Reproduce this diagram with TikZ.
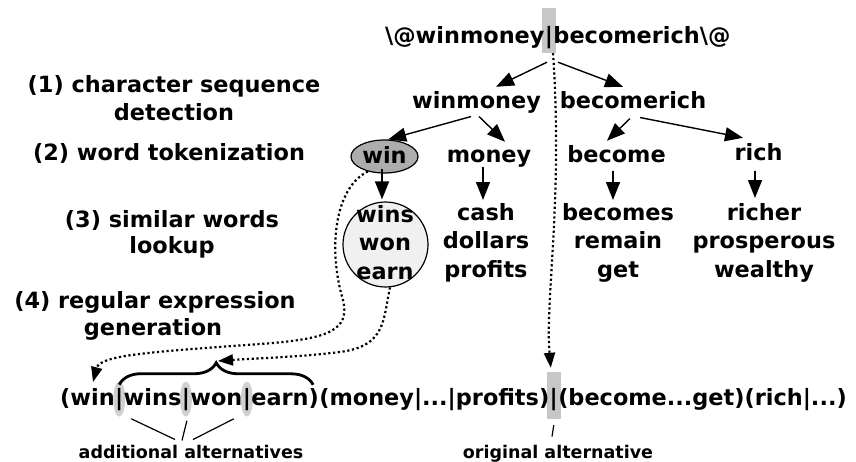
\documentclass[tikz,border=0pt]{standalone}
\usepackage{fontspec}
\setmainfont{DejaVu Sans}
\usetikzlibrary{arrows.meta,decorations.pathreplacing,backgrounds,calc,shapes.geometric}
\begin{document}
\begin{tikzpicture}[x=1pt,y=-1pt,
  txt/.style={font=\bfseries\fontsize{22.4}{28}\selectfont, inner sep=0pt, align=center},
  lst/.style={font=\bfseries\fontsize{22.4}{28.5}\selectfont, inner sep=0pt, align=center, anchor=north},
  small/.style={font=\bfseries\fontsize{17.5}{20}\selectfont, inner sep=0pt},
  arr/.style={line width=1.4pt, -{Triangle[length=18pt,width=14pt]}},
  dots/.style={line width=2.2pt, dash pattern=on 2.2pt off 2.6pt, -{Triangle[length=15pt,width=11pt]}},
  hl/.style={fill=black!22, draw=none, inner sep=0pt},
  thin/.style={line width=1.2pt},
]
\useasboundingbox (0,0) rectangle (856,461);

% input string, split around the separator
\node[txt, anchor=base] (tbar) at (549,43) {|};
\node[txt, anchor=base east] (tl) at (tbar.base west) {\textbackslash @winmoney};
\node[txt, anchor=base west] (tr) at (tbar.base east) {becomerich\textbackslash @};

% step labels
\node[txt, anchor=base] (l1a) at (174,92) {(1) character sequence};
\node[txt, anchor=base] (l1b) at (174,120) {detection};
\node[txt, anchor=base] (l2)  at (169,160) {(2) word tokenization};
\node[txt, anchor=base] (l3a) at (172,227) {(3) similar words};
\node[txt, anchor=base] (l3b) at (172,253) {lookup};
\node[txt, anchor=base] (l4a) at (155,308) {(4) regular expression};
\node[txt, anchor=base] (l4b) at (153,335) {generation};

% detected character sequences
\node[txt, anchor=base] (wm) at (476.5,108) {winmoney};
\node[txt, anchor=base] (br) at (633,108) {becomerich};

% tokens
\node[ellipse, draw, fill=black!32, line width=1.2pt, minimum width=67pt, minimum height=33pt, inner sep=0pt] (win) at (384.5,156.5) {};
\node[txt, anchor=base] (wintxt) at (384.5,163) {win};
\node[txt, anchor=base] (money) at (489,162) {money};
\node[txt, anchor=base] (become) at (616.5,162) {become};
\node[txt, anchor=base] (rich) at (758.5,160) {rich};

% similar words
\node[circle, draw, fill=black!6, line width=1.2pt, minimum size=85pt, inner sep=0pt] (simc) at (385.5,244.5) {};
\node[lst] (sim) at (385,205) {wins\\won\\earn};
\node[lst] (money2) at (486,203) {cash\\dollars\\profits};
\node[lst] (become2) at (618,203) {becomes\\remain\\get};
\node[lst] (rich2) at (764,203) {richer\\prosperous\\wealthy};

% generated expression, split at the alternation bars
\node[txt, anchor=base west] (b1) at (60,405) {(win};
\node[txt, anchor=base west] (s1) at (b1.base east) {|};
\node[txt, anchor=base west] (b2) at (s1.base east) {wins};
\node[txt, anchor=base west] (s2) at (b2.base east) {|};
\node[txt, anchor=base west] (b3) at (s2.base east) {won};
\node[txt, anchor=base west] (s3) at (b3.base east) {|};
\node[txt, anchor=base west] (b4) at (s3.base east) {earn)};
\node[txt, anchor=base west] (b5) at (b4.base east) {(money|...|profits)};
\node[txt, anchor=base west] (s4) at (b5.base east) {|};
\node[txt, anchor=base west] (b6) at (s4.base east) {(become...get)(rich|...)};

% highlights behind the bars
\begin{scope}[on background layer]
  \node[hl, minimum width=14pt, minimum height=45pt] (tbox) at (tbar.center |- 0,30.5) {};
  \node[hl, ellipse, fill=black!18, minimum width=12pt, minimum height=35pt] (e1) at (s1.center) {};
  \node[hl, ellipse, fill=black!18, minimum width=12pt, minimum height=35pt] (e2) at (s2.center) {};
  \node[hl, ellipse, fill=black!18, minimum width=12pt, minimum height=35pt] (e3) at (s3.center) {};
  \node[hl, minimum width=14pt, minimum height=47pt] (obox) at (s4.center |- 0,395.5) {};
\end{scope}

% brace over the added alternatives
\draw[decorate, decoration={brace, amplitude=22pt}, line width=2.8pt]
  ([yshift=3pt]s1.north) -- ([xshift=-6pt,yshift=3pt]b4.north east);
\coordinate (bt) at (218,361);

% tree arrows
\draw[arr] ([xshift=-2pt,yshift=-9pt]tbox.south) -- ([xshift=19.5pt,yshift=4pt]wm.north);
\draw[arr] ([xshift=9pt,yshift=-9pt]tbox.south) -- ([xshift=-10pt,yshift=4pt]br.north);
\draw[arr] ([xshift=-5.5pt,yshift=-3.5pt]wm.south) -- (win.78);
\draw[arr] ([xshift=2.5pt,yshift=-3.5pt]wm.south) -- ([xshift=16pt,yshift=7.5pt]money.north);
\draw[arr] ([xshift=-3pt,yshift=-10pt]br.south) -- ([xshift=-9.5pt,yshift=4pt]become.north);
\draw[arr] ([xshift=7pt,yshift=-9pt]br.south) -- ([xshift=-15.5pt,yshift=5pt]rich.north);
\draw[arr] ([xshift=-2.5pt,yshift=5pt]win.south) -- ([xshift=-3.5pt,yshift=2pt]simc.north);
\draw[arr] ([xshift=-6pt]money.south) -- ([xshift=-3pt,yshift=3pt]money2.north);
\draw[arr] ([xshift=-3.5pt,yshift=-8pt]become.south) -- ([xshift=-5pt,yshift=3pt]become2.north);
\draw[arr] ([xshift=-3.5pt,yshift=-10pt]rich.south) -- ([xshift=-9pt,yshift=5pt]rich2.north);

% dotted links into the expression
\draw[dots] (win.222) .. controls (334,188) and (328,250) .. (343,300)
  .. controls (350,330) and (330,339) .. (260,344)
  .. controls (150,352) and (100,355) .. (93,382);
\draw[dots] (simc.-84) .. controls (383,320) and (386,346) .. (340,352)
  .. controls (300,357) and (260,358) .. (bt);
\draw[dots] ([xshift=4pt]tbox.south) .. controls (563,200) and (545,300) .. ([xshift=-3pt,yshift=4pt]obox.north);

% annotations
\node[small, anchor=base] (addl) at (191,458) {additional alternatives};
\node[small, anchor=base] (orig) at (558,458) {original alternative};
\draw[thin] ([xshift=12pt,yshift=-2pt]e1.south) -- ([xshift=-16pt,yshift=5pt]addl.north);
\draw[thin] ([xshift=1pt,yshift=-4pt]e2.south) -- ([xshift=-9pt,yshift=4pt]addl.north);
\draw[thin] ([xshift=-13pt,yshift=-2pt]e3.south) -- ([xshift=2pt,yshift=5pt]addl.north);
\draw[thin] ([yshift=-6pt]obox.south) -- ([xshift=-6pt,yshift=8pt]orig.north);
\end{tikzpicture}
\end{document}
